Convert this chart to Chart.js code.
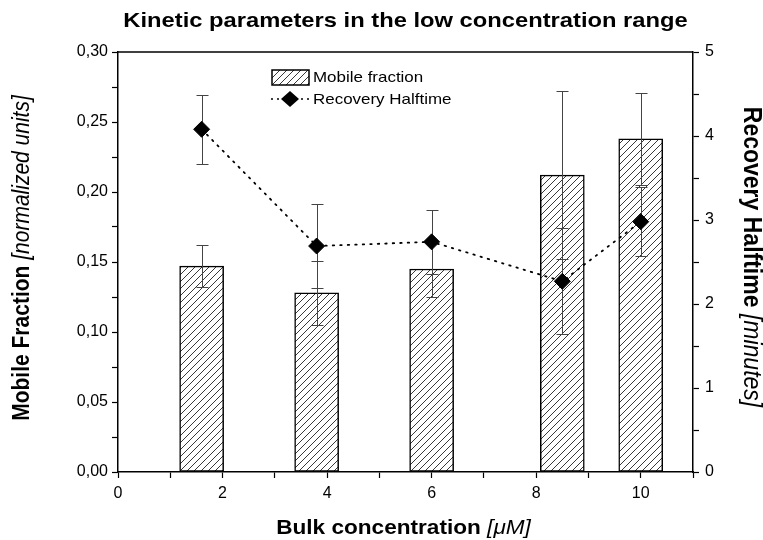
<!DOCTYPE html>
<html>
<head>
<meta charset="utf-8">
<script src="https://cdn.jsdelivr.net/npm/chart.js@4.4.1/dist/chart.umd.min.js"></script>
<style>
  html, body { margin: 0; padding: 0; background: #fff; }
</style>
</head>
<body>
<canvas id="chart" width="763" height="540"></canvas>
<script>
// data
const concentrations      = [1.6, 3.8, 6.0, 8.5, 10.0];
const mobileFraction      = [0.147, 0.128, 0.145, 0.212, 0.238];
const mobileFractionErr   = [0.015, 0.023, 0.020, 0.060, 0.033];
const recoveryHalftime    = [4.08, 2.69, 2.74, 2.27, 2.98];
const recoveryHalftimeErr = [0.41, 0.50, 0.38, 0.63, 0.41];

const titleText   = "Kinetic parameters in the low concentration range";
const seriesNames = ["Mobile fraction", "Recovery Halftime"];

const FONT = "'Liberation Sans', Arial, sans-serif";
const STRETCH = 1.13; // the source picture is a bit wider than tall

// =========================
// Helpers
// =========================

function hatchPattern() {
    const size = 7;
    const c = document.createElement("canvas");
    c.width = size; c.height = size;
    const g = c.getContext("2d");
    g.fillStyle = "#fff";
    g.fillRect(0, 0, size, size);
    g.strokeStyle = "#222";
    g.lineWidth = 0.9;
    g.beginPath();
    g.moveTo(0, size); g.lineTo(size, 0);
    g.moveTo(-size, size); g.lineTo(size, -size);
    g.moveTo(0, 2 * size); g.lineTo(2 * size, 0);
    g.stroke();
    return g.createPattern(c, "repeat");
}

function commaFmt(v) {
    return v.toFixed(2).replace(".", ",");
}

// draws bold + italic pieces centred on (0,0) of the current transform
function drawMixed(ctx, parts) {
    let total = 0;
    parts.forEach(p => { ctx.font = p[1]; total += ctx.measureText(p[0]).width; });
    let cx = -total / 2;
    ctx.textAlign = "left";
    parts.forEach(p => {
        ctx.font = p[1];
        ctx.fillText(p[0], cx, 0);
        cx += ctx.measureText(p[0]).width;
    });
}

const pattern = hatchPattern();

// =========================
// Plugins
// =========================

const errorBars = {
    id: "errorBars",
    beforeDatasetDraw(chart, args) {
        if (args.index !== 1) return;
        const ctx = chart.ctx;
        const x = chart.scales.x;
        const sets = [
            [mobileFraction, mobileFractionErr, chart.scales.yMF],
            [recoveryHalftime, recoveryHalftimeErr, chart.scales.yHT]
        ];
        ctx.save();
        ctx.strokeStyle = "#444";
        ctx.lineWidth = 1;
        sets.forEach(([vals, errs, ys]) => {
            vals.forEach((v, i) => {
                const px = Math.round(x.getPixelForValue(concentrations[i])) + 0.5;
                const top = Math.round(ys.getPixelForValue(v + errs[i])) + 0.5;
                const bot = Math.round(ys.getPixelForValue(v - errs[i])) + 0.5;
                ctx.beginPath();
                ctx.moveTo(px, top); ctx.lineTo(px, bot);
                ctx.moveTo(px - 6, top); ctx.lineTo(px + 6, top);
                ctx.moveTo(px - 6, bot); ctx.lineTo(px + 6, bot);
                ctx.stroke();
            });
        });
        ctx.restore();
    }
};

const decorations = {
    id: "decorations",
    afterDraw(chart) {
        const ctx = chart.ctx;
        const a = chart.chartArea;
        const midX = (a.left + a.right) / 2;
        const midY = (a.top + a.bottom) / 2;
        ctx.save();

        // frame top line
        ctx.strokeStyle = "#000";
        ctx.lineWidth = 1.5;
        ctx.beginPath();
        ctx.moveTo(a.left, a.top); ctx.lineTo(a.right, a.top);
        ctx.stroke();

        ctx.fillStyle = "#000";
        ctx.textBaseline = "middle";

        // title
        ctx.save();
        ctx.translate(midX, 21);
        ctx.scale(STRETCH, 1);
        drawMixed(ctx, [[titleText, "bold 21px " + FONT]]);
        ctx.restore();

        // x title
        ctx.save();
        ctx.translate(midX - 2, 528);
        ctx.scale(STRETCH, 1);
        drawMixed(ctx, [["Bulk concentration ", "bold 20px " + FONT],
                        ["[\u03bcM]", "italic 20px " + FONT]]);
        ctx.restore();

        // left y title
        ctx.save();
        ctx.translate(22, midY - 4);
        ctx.rotate(-Math.PI / 2);
        ctx.scale(1, STRETCH);
        drawMixed(ctx, [["Mobile Fraction ", "bold 21px " + FONT],
                        ["[normalized units]", "italic 21px " + FONT]]);
        ctx.restore();

        // right y title
        ctx.save();
        ctx.translate(751, midY - 5);
        ctx.rotate(Math.PI / 2);
        ctx.scale(1, STRETCH);
        drawMixed(ctx, [["Recovery Halftime ", "bold 23px " + FONT],
                        ["[minutes]", "italic 23px " + FONT]]);
        ctx.restore();

        // legend
        const lx = 272, ly = 77;
        ctx.fillStyle = pattern;
        ctx.fillRect(lx, ly - 7, 37, 15);
        ctx.strokeStyle = "#000";
        ctx.lineWidth = 1.5;
        ctx.strokeRect(lx, ly - 7, 37, 15);

        const dy = ly + 22;
        ctx.fillStyle = "#000";
        [272, 278, 302, 308].forEach(px => {
            ctx.beginPath(); ctx.arc(px, dy, 1, 0, 2 * Math.PI); ctx.fill();
        });
        ctx.beginPath();
        ctx.moveTo(290 - 9, dy); ctx.lineTo(290, dy - 8);
        ctx.lineTo(290 + 9, dy); ctx.lineTo(290, dy + 8);
        ctx.closePath(); ctx.fill();

        ctx.save();
        ctx.translate(313, 0);
        ctx.scale(STRETCH, 1);
        ctx.font = "15px " + FONT;
        ctx.textAlign = "left";
        ctx.fillText(seriesNames[0], 0, ly + 1);
        ctx.fillText(seriesNames[1], 0, dy + 1);
        ctx.restore();
        ctx.restore();
    }
};

// =========================
// Chart
// =========================

const tickFont = { family: FONT, size: 16 };
const tickGrid = { drawOnChartArea: false, offset: false, tickLength: 6, tickColor: "#000", tickWidth: 1.2 };

new Chart(document.getElementById("chart"), {
    type: "bar",
    data: {
        datasets: [
            {
                type: "bar",
                label: seriesNames[0],
                data: concentrations.map((c, i) => ({ x: c, y: mobileFraction[i] })),
                yAxisID: "yMF",
                backgroundColor: pattern,
                borderColor: "#000",
                borderWidth: 1.5,
                borderSkipped: false,
                barThickness: 44,
                order: 1
            },
            {
                type: "line",
                label: seriesNames[1],
                data: concentrations.map((c, i) => ({ x: c, y: recoveryHalftime[i] })),
                yAxisID: "yHT",
                borderColor: "#000",
                borderWidth: 1.8,
                borderDash: [1.5, 6],
                borderCapStyle: "round",
                pointStyle: "rectRot",
                pointRadius: 8,
                pointBackgroundColor: "#000",
                pointBorderColor: "#000",
                pointBorderWidth: 1,
                tension: 0,
                order: 0
            }
        ]
    },
    options: {
        responsive: false,
        animation: false,
        layout: { padding: { top: 52, left: 0, right: 0, bottom: 0 } },
        plugins: { legend: { display: false }, title: { display: false }, tooltip: { enabled: false } },
        scales: {
            x: {
                type: "linear",
                offset: false,
                min: 0, max: 11,
                grid: tickGrid,
                border: { color: "#000", width: 1.5 },
                ticks: {
                    stepSize: 1, autoSkip: false, maxRotation: 0,
                    color: "#000", font: tickFont, padding: 6,
                    callback: v => (v % 2 === 0 && v <= 10) ? String(v) : ""
                },
                afterFit: s => { s.height = 68; }
            },
            yMF: {
                type: "linear", position: "left",
                min: 0, max: 0.30,
                grid: tickGrid,
                border: { color: "#000", width: 1.5 },
                ticks: {
                    stepSize: 0.025, autoSkip: false,
                    color: "#000", font: tickFont, padding: 4,
                    callback: v => (Math.round(v * 1000) % 50 === 0) ? commaFmt(v) : ""
                },
                afterFit: s => { s.width = 118; }
            },
            yHT: {
                type: "linear", position: "right",
                min: 0, max: 5,
                grid: tickGrid,
                border: { color: "#000", width: 1.5 },
                ticks: {
                    stepSize: 0.5, autoSkip: false,
                    color: "#000", font: tickFont, padding: 6,
                    callback: v => Number.isInteger(v) ? String(v) : ""
                },
                afterFit: s => { s.width = 70; }
            }
        }
    },
    plugins: [errorBars, decorations]
});
</script>
</body>
</html>
